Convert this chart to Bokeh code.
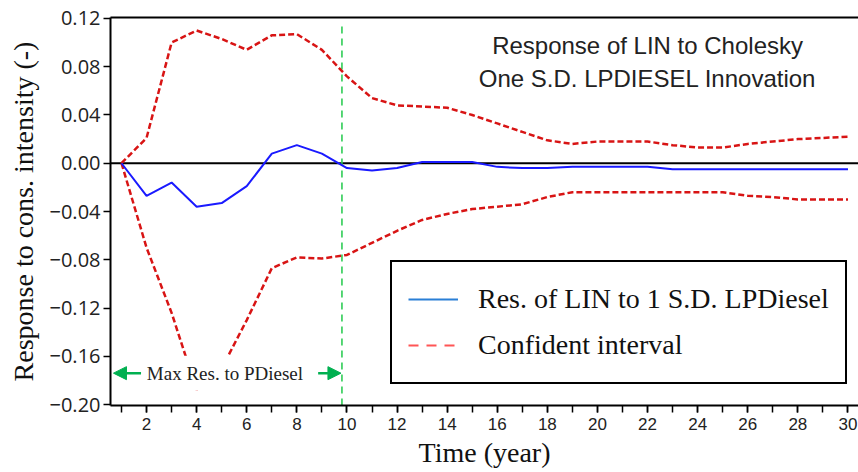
from bokeh.plotting import figure
from bokeh.models import (ColumnDataSource, Range1d, FixedTicker, LinearAxis, Span, Label,
                          Arrow, NormalHead, Legend, LegendItem, CustomJSTickFormatter)
from bokeh.embed import file_html
from bokeh.resources import INLINE

years = list(range(1, 31))
response = [0.000, -0.027, -0.016, -0.036, -0.033, -0.019, 0.008, 0.015, 0.008, -0.004,
            -0.006, -0.004, 0.001, 0.001, 0.001, -0.003, -0.004, -0.004, -0.003, -0.003,
            -0.003, -0.003, -0.005, -0.005, -0.005, -0.005, -0.005, -0.005, -0.005, -0.005]
upper = [0.000, 0.021, 0.100, 0.110, 0.103, 0.094, 0.106, 0.107, 0.094, 0.072,
         0.054, 0.048, 0.047, 0.046, 0.040, 0.033, 0.026, 0.019, 0.016, 0.018,
         0.018, 0.018, 0.015, 0.013, 0.013, 0.016, 0.018, 0.020, 0.021, 0.022]
lower = [0.000, -0.070, -0.124, -0.188, -0.170, -0.130, -0.087, -0.078, -0.079, -0.076,
         -0.066, -0.056, -0.047, -0.042, -0.038, -0.036, -0.034, -0.028, -0.024, -0.024,
         -0.024, -0.024, -0.024, -0.024, -0.024, -0.027, -0.028, -0.030, -0.030, -0.030]
x_ticks = list(range(2, 31, 2))
x_minor = list(range(1, 31))
y_ticks = [0.12, 0.08, 0.04, 0.00, -0.04, -0.08, -0.12, -0.16, -0.20]
marker_year = 9.8
annot_text = "Max Res. to PDiesel"
title_text = "Response of LIN to Cholesky\nOne S.D. LPDIESEL Innovation"
legend_labels = ["Res. of LIN to 1 S.D. LPDiesel", "Confident interval"]

src = ColumnDataSource(data=dict(year=years, resp=response, up=upper, lo=lower))

p = figure(width=858, height=472, x_range=Range1d(0.561, 30.42), y_range=Range1d(-0.2008, 0.1208),
           output_backend="svg", toolbar_location=None,
           min_border_left=110, min_border_right=0, min_border_top=17, min_border_bottom=67)
p.outline_line_color = None
p.xgrid.visible = False
p.ygrid.visible = False

# axes
for ax in (p.xaxis[0], p.yaxis[0]):
    ax.axis_line_color = "black"
    ax.axis_line_width = 2
    ax.major_tick_line_color = "black"
    ax.major_tick_line_width = 1.5
    ax.major_tick_out = 7
    ax.major_tick_in = 0
    ax.major_label_text_color = "#222222"
    ax.axis_label_text_font = "Liberation Serif"
    ax.axis_label_text_font_style = "normal"
    ax.axis_label_text_font_size = "28px"
    ax.axis_label_text_color = "#111111"

p.xaxis.ticker = FixedTicker(ticks=x_ticks, minor_ticks=x_minor)
p.xaxis.minor_tick_line_color = "black"
p.xaxis.minor_tick_line_width = 1.5
p.xaxis.minor_tick_out = 7
p.xaxis.minor_tick_in = 0
p.xaxis.major_label_text_font = "Liberation Sans"
p.xaxis.major_label_text_font_size = "17px"
p.xaxis.major_label_standoff = 5
p.xaxis.axis_label = "Time (year)"
p.xaxis.axis_label_standoff = 4

p.yaxis.ticker = FixedTicker(ticks=y_ticks, minor_ticks=[])
p.yaxis.formatter = CustomJSTickFormatter(code="""
    const s = Math.abs(tick).toFixed(2);
    return tick < -1e-9 ? "\u2212" + s : s;
""")
p.yaxis.major_label_text_font = "Open Sans"
p.yaxis.major_label_text_font_size = "20px"
p.yaxis.major_label_standoff = 3
p.yaxis.axis_label = "Response to cons. intensity (-)"
p.yaxis.axis_label_standoff = 8

top_axis = LinearAxis(ticker=FixedTicker(ticks=[]), axis_line_color="black", axis_line_width=2,
                      major_tick_line_color=None, minor_tick_line_color=None,
                      major_label_text_font_size="0px")
p.add_layout(top_axis, "above")

# zero line
p.add_layout(Span(location=0, dimension="width", line_color="black", line_width=2, level="underlay"))

# vertical marker
p.segment(x0=[marker_year], y0=[-0.2008], x1=[marker_year], y1=[0.115],
          line_color="#2ecc55", line_width=1.6, line_dash="7 5")

# data
p.line("year", "up", source=src, line_color="#d81414", line_width=2.5, line_dash="6 3")
p.line("year", "lo", source=src, line_color="#d81414", line_width=2.5, line_dash="6 3")
p.line("year", "resp", source=src, line_color="#1a1aff", line_width=2)

# title inside plot
p.add_layout(Label(x=22.0, y=0.0839, text=title_text, text_align="center", text_baseline="middle",
                   text_font="Liberation Sans", text_font_size="24px", text_color="#222222"))

# annotation with arrows
green = "#00b050"
p.add_layout(Label(x=5.13, y=-0.174, text=annot_text, text_align="center", text_baseline="middle",
                   text_font="Liberation Serif", text_font_size="19px", text_color="#222222",
                   background_fill_color="white", padding=7))
p.add_layout(Arrow(end=NormalHead(size=13, fill_color=green, line_color=green),
                   x_start=1.78, y_start=-0.174, x_end=0.68, y_end=-0.174,
                   line_color=green, line_width=2.5))
p.add_layout(Arrow(end=NormalHead(size=13, fill_color=green, line_color=green),
                   x_start=8.85, y_start=-0.174, x_end=9.76, y_end=-0.174,
                   line_color=green, line_width=2.5))

# legend with its own sample styles
nan = float("nan")
empty = ColumnDataSource(data=dict(x=[nan], y=[nan]))
r1 = p.line("x", "y", source=empty, line_color="#2a7fd6", line_width=2)
r2 = p.line("x", "y", source=empty, line_color="#ff5555", line_width=1.8, line_dash="10 8")
legend = Legend(items=[LegendItem(label=legend_labels[0], renderers=[r1]),
                       LegendItem(label=legend_labels[1], renderers=[r2])],
                location=(280, 21), label_text_font="Liberation Serif", label_text_font_size="28px",
                label_text_color="#111111", glyph_width=50, glyph_height=20, label_standoff=20,
                padding=16, spacing=4, label_height=42, border_line_color="black",
                border_line_width=2, border_line_alpha=1, background_fill_color="white",
                background_fill_alpha=1)
p.add_layout(legend, "center")

open("out.html", "w").write(file_html(p, INLINE))
